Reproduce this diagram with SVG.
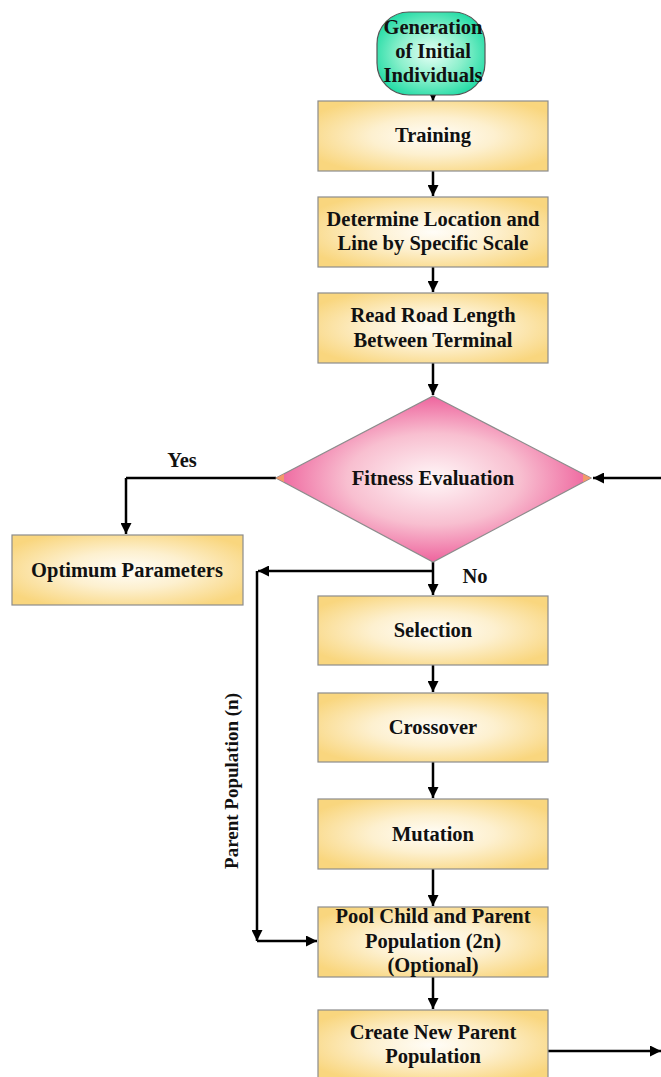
<svg xmlns="http://www.w3.org/2000/svg" width="661" height="1077" viewBox="0 0 661 1077">
<defs>
<radialGradient id="gBox" cx="50%" cy="50%" r="60%">
<stop offset="0" stop-color="#fffdf8"/>
<stop offset="0.45" stop-color="#fdf0cf"/>
<stop offset="1" stop-color="#f9d67e"/>
</radialGradient>
<radialGradient id="gDia" cx="50%" cy="50%" r="55%">
<stop offset="0" stop-color="#fff7f8"/>
<stop offset="0.5" stop-color="#f8bfd0"/>
<stop offset="1" stop-color="#ec4f92"/>
</radialGradient>
<radialGradient id="gTerm" cx="50%" cy="50%" r="60%">
<stop offset="0" stop-color="#e6fff6"/>
<stop offset="0.5" stop-color="#8cf0cc"/>
<stop offset="1" stop-color="#14d9a0"/>
</radialGradient>
<marker id="ah" viewBox="0 0 10 10" refX="10" refY="5" markerWidth="4.6" markerHeight="4.4" orient="auto" markerUnits="strokeWidth">
<path d="M0,0 L10,5 L0,10 z" fill="#000"/>
</marker>
</defs>
<style>
.box{fill:url(#gBox);stroke:#8c8c8c;stroke-width:1.2}
.t{font-family:"Liberation Serif","Times New Roman",serif;font-weight:bold;font-size:20.5px;fill:#111;text-anchor:middle}
.s{font-size:19px}
.c{fill:none;stroke:#000;stroke-width:2.5}
.ca{fill:none;stroke:#000;stroke-width:2.5;marker-end:url(#ah)}
</style>
<rect width="661" height="1077" fill="#fff"/>

<g id="connectors">
<path class="ca" d="M433,95 V101"/>
<path class="ca" d="M433,171 V196"/>
<path class="ca" d="M433,267 V292"/>
<path class="ca" d="M433,363 V395"/>
<path class="c" d="M276,478 H126"/>
<path class="ca" d="M126,478 V534"/>
<path class="ca" d="M661,478 H593"/>
<path class="ca" d="M433,562 V595"/>
<path class="ca" d="M433,571 H258"/>
<path class="ca" d="M257,571 V941"/>
<path class="ca" d="M257,941 H317"/>
<path class="ca" d="M433,665 V692"/>
<path class="ca" d="M433,762 V798"/>
<path class="ca" d="M433,869 V906"/>
<path class="ca" d="M433,977 V1009"/>
<path class="ca" d="M548,1051 H661"/>
</g>

<g id="start">
<rect x="377" y="12" width="108" height="83" rx="32" ry="32" fill="url(#gTerm)" stroke="#555" stroke-width="1.2"/>
<text class="t" x="433" y="34">Generation</text>
<text class="t" x="433" y="58">of Initial</text>
<text class="t" x="433" y="82">Individuals</text>
</g>

<g id="training">
<rect class="box" x="318" y="101" width="230" height="70"/>
<text class="t" x="433" y="142">Training</text>
</g>

<g id="determine">
<rect class="box" x="318" y="197" width="230" height="70"/>
<text class="t" x="433" y="226">Determine Location and</text>
<text class="t" x="433" y="250">Line by Specific Scale</text>
</g>

<g id="readroad">
<rect class="box" x="318" y="293" width="230" height="70"/>
<text class="t" x="433" y="322">Read Road Length</text>
<text class="t" x="433" y="347">Between Terminal</text>
</g>

<g id="fitness">
<polygon points="433,396 591,478 433,562 276,478" fill="url(#gDia)" stroke="#8c8c8c" stroke-width="1.2"/>
<polygon points="276,478 284,474 284,482" fill="#f29a6a"/>
<polygon points="591,478 583,474 583,482" fill="#f29a6a"/>
<text class="t" x="433" y="485">Fitness Evaluation</text>
</g>

<g id="optimum">
<rect class="box" x="12" y="535" width="231" height="70"/>
<text class="t" x="127" y="577">Optimum Parameters</text>
</g>

<g id="selection">
<rect class="box" x="318" y="596" width="230" height="69"/>
<text class="t" x="433" y="637">Selection</text>
</g>

<g id="crossover">
<rect class="box" x="318" y="693" width="230" height="69"/>
<text class="t" x="433" y="734">Crossover</text>
</g>

<g id="mutation">
<rect class="box" x="318" y="799" width="230" height="70"/>
<text class="t" x="433" y="841">Mutation</text>
</g>

<g id="pool">
<rect class="box" x="318" y="907" width="230" height="70"/>
<text class="t" x="433" y="923">Pool Child and Parent</text>
<text class="t" x="433" y="948">Population (2n)</text>
<text class="t" x="433" y="972">(Optional)</text>
</g>

<g id="create">
<rect class="box" x="318" y="1010" width="230" height="70"/>
<text class="t" x="433" y="1039">Create New Parent</text>
<text class="t" x="433" y="1063">Population</text>
</g>

<g id="labels">
<text class="t" x="182" y="467">Yes</text>
<text class="t" x="475" y="583">No</text>
<text class="t s" transform="translate(238,781) rotate(-90)">Parent Population (n)</text>
</g>
</svg>
